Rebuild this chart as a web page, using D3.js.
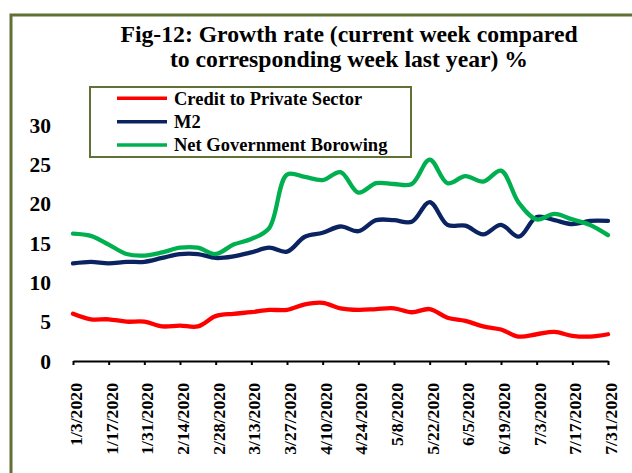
<!DOCTYPE html>
<html>
<head>
<meta charset="utf-8">
<script src="https://cdn.jsdelivr.net/npm/d3@7"></script>
<style>
  html, body { margin: 0; padding: 0; background: #ffffff; }
  svg { display: block; }
  text { font-family: "Liberation Serif", "Times New Roman", serif; font-weight: bold; fill: #000; }
</style>
</head>
<body>
<svg id="chart" width="632" height="473"></svg>
<script>
// ---- data ----
const weeks = ["1/3/2020","1/10/2020","1/17/2020","1/24/2020","1/31/2020","2/7/2020","2/14/2020","2/21/2020","2/28/2020",
  "3/6/2020","3/13/2020","3/20/2020","3/27/2020","4/3/2020","4/10/2020","4/17/2020","4/24/2020","5/1/2020","5/8/2020",
  "5/15/2020","5/22/2020","5/29/2020","6/5/2020","6/12/2020","6/19/2020","6/26/2020","7/3/2020","7/10/2020","7/17/2020",
  "7/24/2020","7/31/2020"];
const tickLabels = ["1/3/2020","1/17/2020","1/31/2020","2/14/2020","2/28/2020","3/13/2020","3/27/2020","4/10/2020",
  "4/24/2020","5/8/2020","5/22/2020","6/5/2020","6/19/2020","7/3/2020","7/17/2020","7/31/2020"];
const creditPrivate = [6.0,5.3,5.3,5.0,5.0,4.4,4.5,4.4,5.7,6.0,6.2,6.5,6.5,7.2,7.4,6.7,6.5,6.6,6.7,6.2,6.6,5.5,5.1,4.4,4.0,3.1,3.4,3.7,3.2,3.1,3.4];
const m2 = [12.4,12.6,12.4,12.6,12.6,13.1,13.6,13.6,13.1,13.3,13.8,14.4,13.9,15.8,16.3,17.1,16.5,17.9,17.9,17.7,20.2,17.3,17.2,16.1,17.3,15.8,18.3,17.9,17.4,17.8,17.8];
const netGovBorrowing = [16.2,15.9,14.8,13.6,13.4,13.8,14.4,14.4,13.6,14.8,15.5,16.9,23.7,23.4,23.0,24.0,21.4,22.6,22.5,22.5,25.6,22.6,23.5,22.8,24.2,20.1,18.0,18.7,18.0,17.3,16.0];
const yTicks = [0,5,10,15,20,25,30];
const seriesNames = ["Credit to Private Sector","M2","Net Government Borowing"];
const seriesColors = ["#ff0000","#0b2461","#00b050"];
const titleLines = ["Fig-12: Growth rate (current week compared","to corresponding week last year) %"];

const series = [creditPrivate, m2, netGovBorrowing];

// ---- layout ----
const svg = d3.select("#chart");
const frameColor = "#5f7134";

svg.append("rect")
  .attr("x", 11).attr("y", 15).attr("width", 640).attr("height", 480)
  .attr("fill", "none").attr("stroke", frameColor).attr("stroke-width", 3);

svg.append("g").selectAll("text").data(titleLines).join("text")
  .attr("x", 349).attr("y", (d, i) => 41.7 + i * 25)
  .attr("text-anchor", "middle")
  .style("font-size", "23.7px")
  .text(d => d);

const x = d3.scalePoint().domain(weeks).range([73, 608]);
const y = d3.scaleLinear().domain([0, 30]).range([361, 125]);

const yAxis = d3.axisLeft(y).tickValues(yTicks).tickSize(0).tickPadding(0);
const gy = svg.append("g").attr("transform", "translate(51,0)").call(yAxis);
gy.select(".domain").remove();
gy.selectAll("text")
  .style("font-family", "\"Liberation Serif\", \"Times New Roman\", serif")
  .style("font-weight", "bold")
  .style("font-size", "21.5px")
  .attr("fill", "#000")
  .attr("dy", "0.34em");

const xAxis = d3.axisBottom(x).tickValues(tickLabels).tickSize(4).tickSizeOuter(0);
const gx = svg.append("g").attr("transform", `translate(0,${y(0)})`).call(xAxis);
gx.select(".domain").attr("stroke", "#000").attr("stroke-width", 2);
gx.selectAll(".tick line").attr("stroke", "#000").attr("stroke-width", 2);
gx.selectAll(".tick text")
  .style("font-family", "\"Liberation Serif\", \"Times New Roman\", serif")
  .style("font-weight", "bold")
  .style("font-size", "17.7px")
  .attr("fill", "#000")
  .attr("text-anchor", "end")
  .attr("x", 0).attr("y", 0).attr("dy", 0)
  .attr("transform", "translate(8.5,22) rotate(-90)");

const line = d3.line()
  .x((d, i) => x(weeks[i]))
  .y(d => y(d))
  .curve(d3.curveCatmullRom.alpha(0.5));

svg.append("g").selectAll("path").data(series).join("path")
  .attr("d", d => line(d))
  .attr("fill", "none")
  .attr("stroke", (d, i) => seriesColors[i])
  .attr("stroke-width", 4.3)
  .attr("stroke-linejoin", "round")
  .attr("stroke-linecap", "round");

const lg = svg.append("g");
lg.append("rect")
  .attr("x", 90).attr("y", 87).attr("width", 321).attr("height", 70)
  .attr("fill", "#fff").attr("stroke", frameColor).attr("stroke-width", 2);
const items = lg.selectAll("g.item").data(seriesNames).join("g")
  .attr("class", "item")
  .attr("transform", (d, i) => `translate(0,${98.3 + i * 23.4})`);
items.append("line")
  .attr("x1", 117).attr("x2", 167).attr("y1", 0).attr("y2", 0)
  .attr("stroke", (d, i) => seriesColors[i]).attr("stroke-width", 3.5);
items.append("text")
  .attr("x", 174).attr("y", 0).attr("dy", "0.34em")
  .style("font-size", "18.5px")
  .text(d => d);
</script>
</body>
</html>
